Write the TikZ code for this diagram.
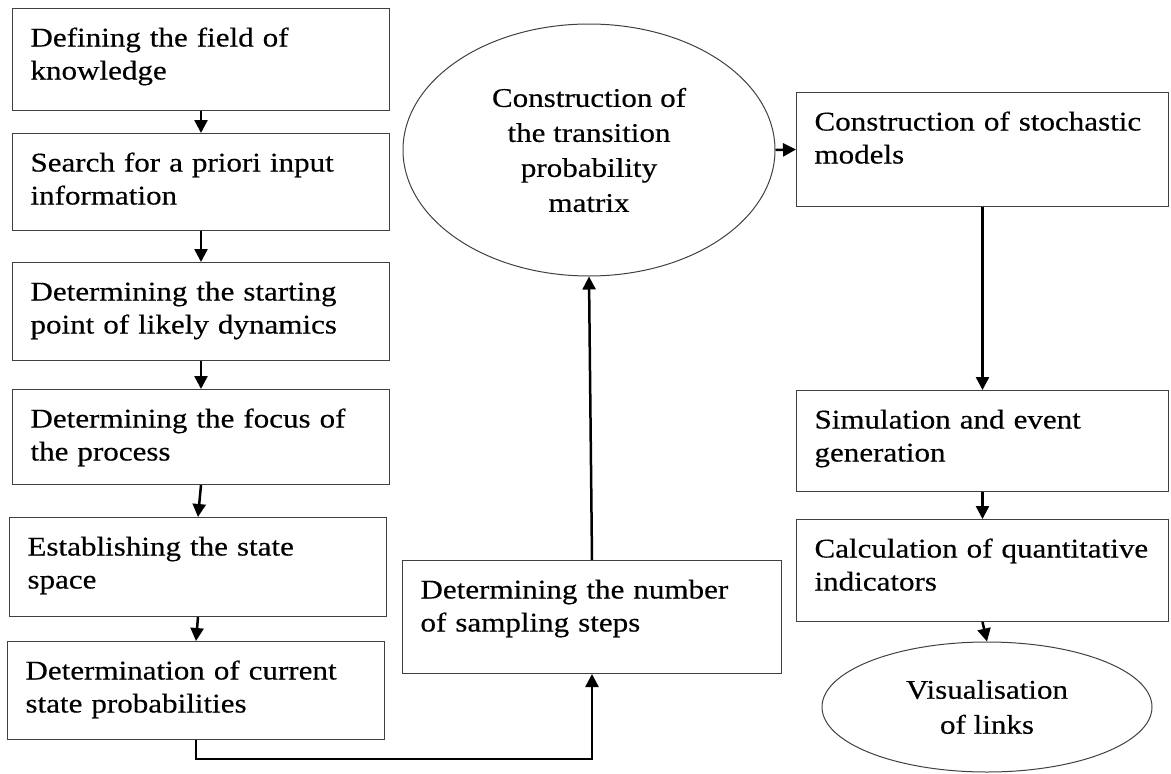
\documentclass[tikz,border=0pt]{standalone}
\usepackage{fontspec}
\setmainfont[FakeStretch=1.15,FakeBold=0.4]{Liberation Serif}
\usetikzlibrary{shapes.geometric,arrows.meta}

\begin{document}
\begin{tikzpicture}[x=1pt,y=-1pt,
  stepbox/.style={draw=black!75, line width=1pt, anchor=north west, inner xsep=18pt, inner ysep=0pt,
    align=left, font=\fontsize{27}{33}\selectfont, text height=38pt},
  oval/.style={draw=black!75, line width=1pt, ellipse, inner sep=0pt, align=center,
    font=\fontsize{27}{35}\selectfont},
  flow/.style={line width=2.5pt, -{Triangle[length=13pt,width=13pt]}}]
\useasboundingbox (0,0) rectangle (1171,774);
%% left column
\node[stepbox, text width=341pt, text depth=64pt] (field) at (12,8) {Defining the field of\\knowledge};
\node[stepbox, text width=341pt, text depth=59pt] (search) at (12,133) {Search for a priori input\\information};
\node[stepbox, text width=341pt, text depth=60pt] (start) at (12,262) {Determining the starting\\point of likely dynamics};
\node[stepbox, text width=341pt, text depth=57pt] (focus) at (12,389) {Determining the focus of\\the process};
\node[stepbox, text width=341pt, text depth=61pt] (space) at (9,517) {Establishing the state\\space};
\node[stepbox, text width=341pt, text depth=60pt] (current) at (7,641) {Determination of current\\state probabilities};
%% middle
\node[stepbox, text width=343pt, text depth=75pt] (steps) at (402,560) {Determining the number\\of sampling steps};
\node[oval, minimum width=372pt, minimum height=252pt] (matrix) at (589,150) {Construction of\\the transition\\probability\\matrix};
%% right column
\node[stepbox, text width=336pt, text depth=76pt] (models) at (796,92) {Construction of stochastic\\models};
\node[stepbox, text width=336pt, text depth=63pt] (simul) at (796,390) {Simulation and event\\generation};
\node[stepbox, text width=336pt, text depth=64pt] (calc) at (796,519) {Calculation of quantitative\\indicators};
\node[oval, minimum width=330pt, minimum height=130pt] (links) at (987,707) {Visualisation\\of links};
%% arrows
\draw[flow] (field.south) -- (search.north);
\draw[flow] (search.south) -- (start.north);
\draw[flow] (start.south) -- (focus.north);
\draw[flow] (focus.south) -- (space.north);
\draw[flow] (space.south) -- (current.north);
\draw[flow] (current.south) -- ++(0,19) -| (steps.south);
\draw[flow] (steps.north) -- (matrix.south);
\draw[flow] (matrix.east) -- (models.west);
\draw[flow] (models.south) -- (simul.north);
\draw[flow] (simul.south) -- (calc.north);
\draw[flow] (calc.south) -- (links.north);
\end{tikzpicture}
\end{document}
